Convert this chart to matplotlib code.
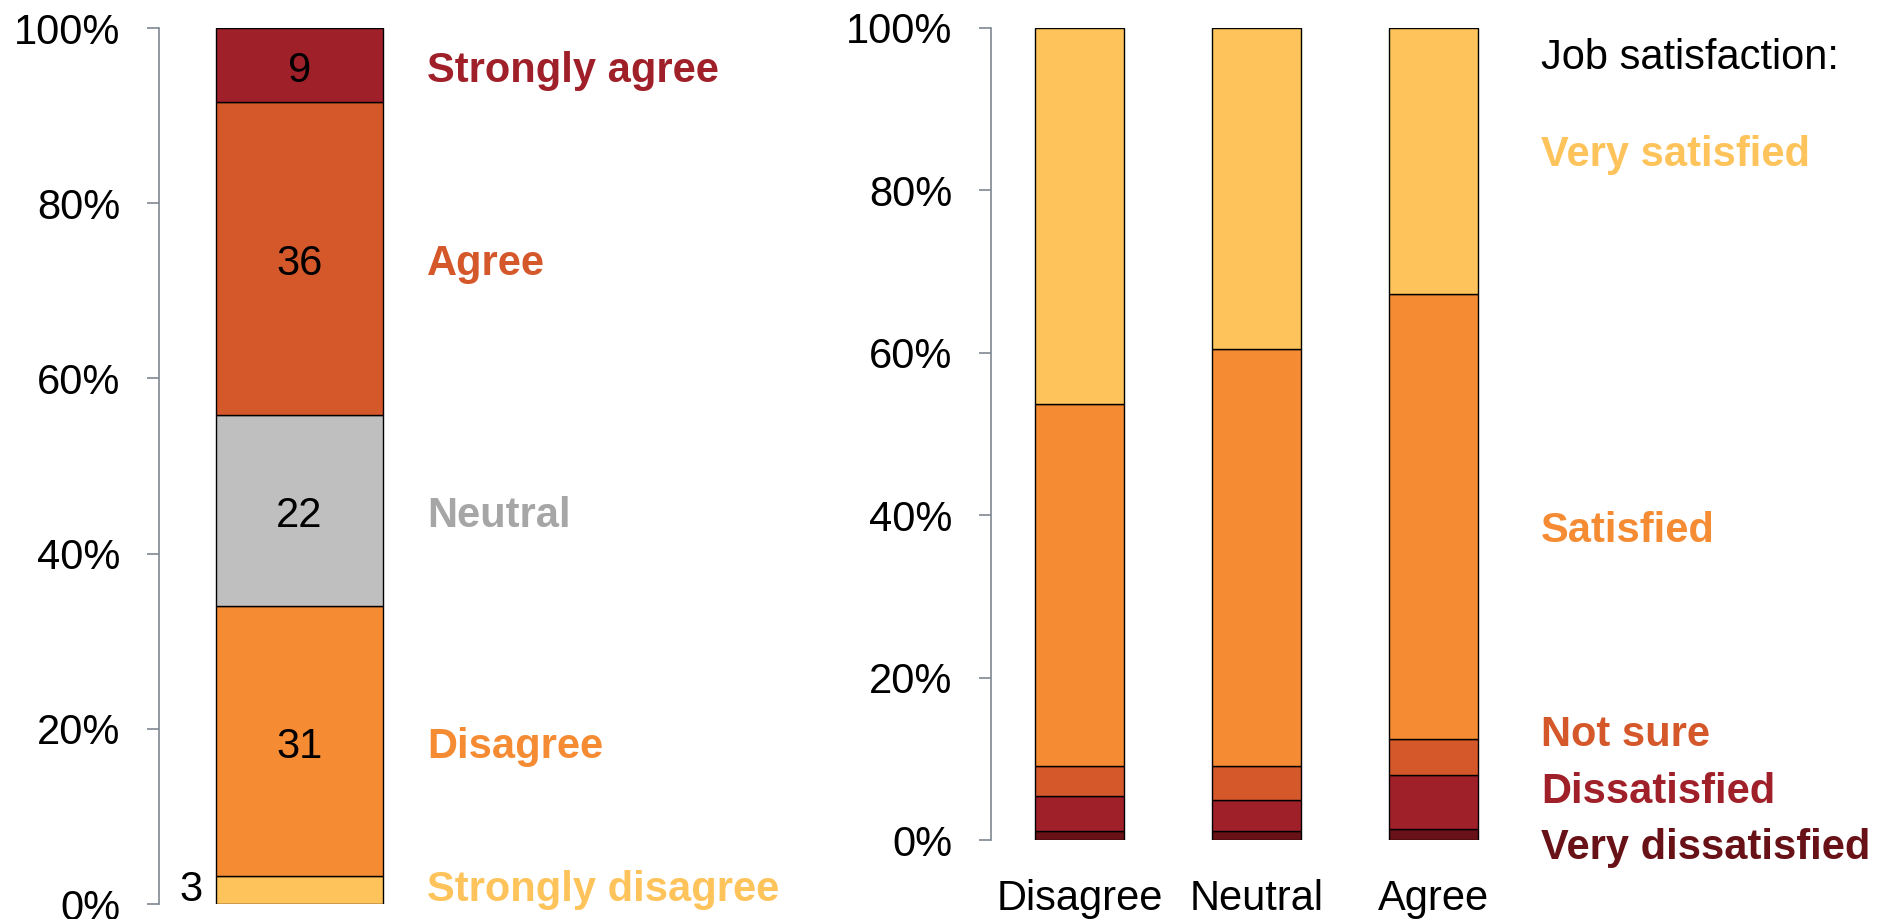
import numpy as np
import matplotlib
matplotlib.use('Agg')
import matplotlib.pyplot as plt
from matplotlib.ticker import PercentFormatter
from matplotlib.transforms import offset_copy

plt.rcParams['font.family'] = ['Liberation Sans', 'DejaVu Sans']

# left panel: opinion (percent of respondents, bottom to top)
opinion_cats = ['Strongly disagree', 'Disagree', 'Neutral', 'Agree', 'Strongly agree']
opinion_pct = [3.2, 30.8, 21.8, 35.7, 8.5]
opinion_lbl = ['3', '31', '22', '36', '9']
opinion_colors = ['#FEC35A', '#F58B33', '#BFBFBF', '#D4582A', '#A0202A']
opinion_text_colors = ['#FEC35A', '#F58B33', '#A6A6A6', '#D4582A', '#A0202A']

# right panel: job satisfaction by opinion group (percent, bottom to top)
groups = ['Disagree', 'Neutral', 'Agree']
sat_cats = ['Very dissatisfied', 'Dissatisfied', 'Not sure', 'Satisfied', 'Very satisfied']
very_dissatisfied = [1.1, 1.1, 1.4]
dissatisfied = [4.3, 3.8, 6.6]
not_sure = [3.7, 4.2, 4.4]
satisfied = [44.6, 51.4, 54.9]
very_satisfied = [46.3, 39.5, 32.7]
sat_colors = ['#681217', '#A0202A', '#D4582A', '#F58B33', '#FEC35A']
sat_label_y = [-1.0, 5.9, 12.9, 38.0, 84.3]

FS = 30
spine_col = '#7F8791'

fig = plt.figure(figsize=(19.01, 9.19), dpi=100)

# ---- left panel
ax1 = fig.add_axes([159/1901, 15/919, 641/1901, 876/919])
lower = offset_copy(ax1.transData, fig=fig, x=0, y=-4, units='points')
bottom = 0
for i, v in enumerate(opinion_pct):
    ax1.bar(0, v, width=1, bottom=bottom, color=opinion_colors[i],
            edgecolor='black', linewidth=1.0)
    mid = bottom + v/2
    if v > 5:
        ax1.text(0, mid, opinion_lbl[i], ha='center', va='center', fontsize=FS,
                 transform=lower)
    else:
        ax1.text(-0.58, mid, opinion_lbl[i], ha='right', va='center', fontsize=FS)
    ax1.text(0.763, mid, opinion_cats[i], ha='left', va='center', fontsize=FS,
             fontweight='bold', color=opinion_text_colors[i],
             transform=lower if v > 5 else ax1.transData)
    bottom += v

ax1.set_xlim(-0.841, 2.997)
ax1.set_ylim(0, 100)

# ---- right panel
ax2 = fig.add_axes([991/1901, 79/919, 910/1901, 812/919])
x = np.arange(len(groups))
stack = [very_dissatisfied, dissatisfied, not_sure, satisfied, very_satisfied]
bot = np.zeros(len(groups))
for i, vals in enumerate(stack):
    ax2.bar(x, vals, width=0.5, bottom=bot, color=sat_colors[i],
            edgecolor='black', linewidth=1.0)
    bot += np.array(vals)
    ax2.text(2.606, sat_label_y[i], sat_cats[i], ha='left', va='center',
             fontsize=FS, fontweight='bold', color=sat_colors[i])
ax2.text(2.606, 96.3, 'Job satisfaction:', ha='left', va='center', fontsize=FS)

ax2.set_xlim(-0.5, 4.641)
ax2.set_ylim(0, 100)
ax2.set_xticks(x)
ax2.set_xticklabels(groups, fontsize=FS)

for ax in (ax1, ax2):
    for s in ['top', 'right', 'bottom']:
        ax.spines[s].set_visible(False)
    ax.spines['left'].set_color(spine_col)
    ax.spines['left'].set_linewidth(1.2)
    ax.set_yticks(np.arange(0, 101, 20))
    ax.yaxis.set_major_formatter(PercentFormatter(decimals=0))
    ax.tick_params(axis='y', length=9, width=1.2, color=spine_col, pad=19,
                   labelsize=FS)

ax1.set_xticks([])
ax2.tick_params(axis='x', length=0, pad=28)

plt.savefig('out.png', dpi=100)
